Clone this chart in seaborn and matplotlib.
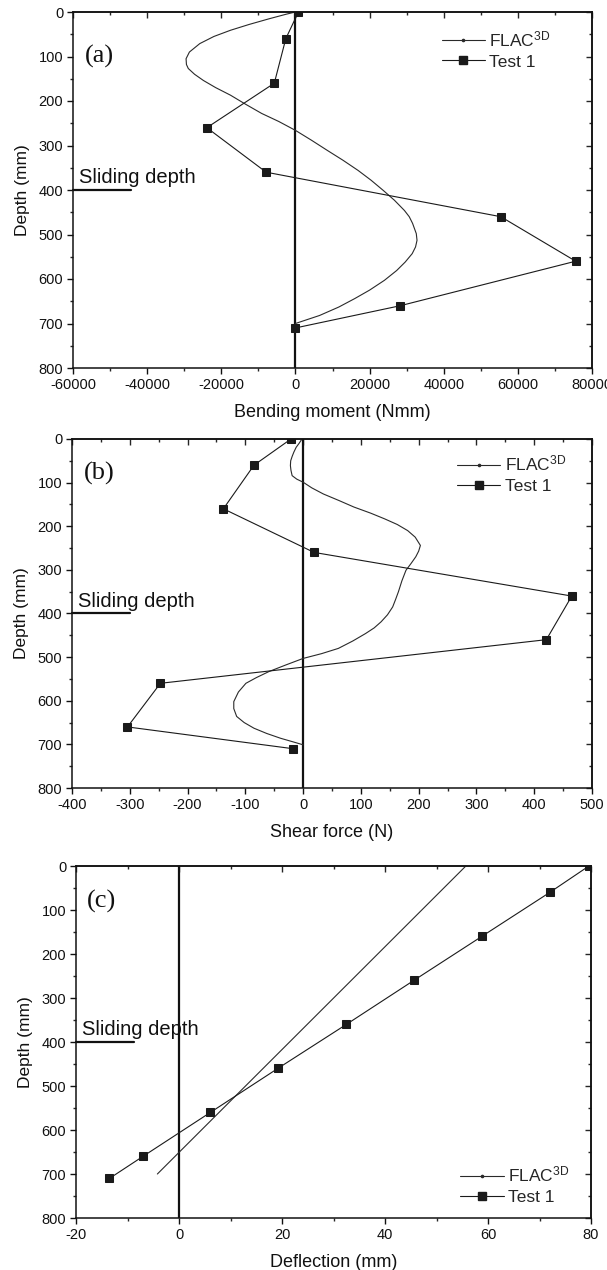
import matplotlib
matplotlib.use("Agg")
import numpy as np
import matplotlib.pyplot as plt
import seaborn as sns
from matplotlib.lines import Line2D
from matplotlib.ticker import MultipleLocator

sns.set_theme(style="ticks")
plt.rcParams['font.family'] = ['Liberation Sans', 'DejaVu Sans']
plt.rcParams['mathtext.default'] = 'regular'
plt.rcParams['axes.unicode_minus'] = False
plt.rcParams['axes.linewidth'] = 1.1
plt.rcParams['axes.edgecolor'] = '#111111'

# test depths (mm)
depth_test = [0, 60, 160, 260, 360, 460, 560, 660, 710]

# (a) bending moment (Nmm)
moment_test = [800, -2600, -5700, -23900, -7900, 55400, 75600, 28300, 0]
depth_flac_a = [0, 5, 15, 28, 41, 55, 71, 90, 105, 118, 127, 140, 154, 170, 187,
                207, 228, 246, 266, 288, 311, 333, 356, 378, 401, 423, 446, 460,
                475, 498, 513, 528, 543, 562, 581, 603, 625, 644, 663, 682, 700]
moment_flac = [0, -2500, -7000, -12500, -17500, -22000, -25800, -28600, -29500,
               -29400, -28900, -27200, -24800, -21500, -17500, -13500, -9100,
               -4500, 0, 4300, 8600, 12800, 16900, 20400, 23700, 26700, 29400,
               30700, 31600, 32600, 32800, 32400, 31500, 29600, 27300, 24000,
               20000, 16000, 11700, 6500, 0]

# (b) shear force (N)
shear_test = [-21, -85, -138, 19, 465, 421, -247, -304, -17]
depth_flac_b = [0, 10, 19, 30, 40, 50, 61, 72, 84, 92, 99, 112, 126, 141, 156,
                170, 183, 196, 210, 225, 244, 257, 270, 285, 301, 325, 350, 368,
                385, 403, 419, 433, 446, 463, 480, 492, 503, 518, 533, 547, 560,
                580, 602, 618, 636, 650, 663, 675, 686, 694, 701]
shear_flac = [-2, -7, -12, -16, -19, -21.5, -22, -21, -19, -11, 0, 15, 35, 62,
              88, 117, 141, 163, 181, 194, 203, 200, 195, 187, 178, 171, 165,
              160, 155, 146, 135, 123, 108, 86, 61, 32, 0, -30, -59, -81, -99,
              -112, -120, -120, -115, -102, -85, -63, -39, -18, 0]

# (c) deflection (mm)
deflection_test = [79.6, 72.0, 58.8, 45.6, 32.5, 19.2, 6.1, -7.0, -13.5]
depth_flac_c = [0, 700]
deflection_flac = [55.7, -4.2]

FLAC_LABEL = 'FLAC$^{3D}$'
TEST_LABEL = 'Test 1'


def style_axes(ax, xlim, xmajor, xminor):
    ax.set_xlim(xlim)
    ax.set_ylim(800, 0)
    ax.set_xticks(np.arange(xlim[0], xlim[1] + xmajor / 2, xmajor))
    ax.xaxis.set_minor_locator(MultipleLocator(xminor))
    ax.set_yticks(np.arange(0, 801, 100))
    ax.yaxis.set_minor_locator(MultipleLocator(50))
    ax.tick_params(which='major', direction='out', length=4.5, width=1.0,
                   labelsize=10.5, pad=2.5, colors='#111111')
    ax.tick_params(which='minor', direction='out', length=2.5, width=1.0)
    # mirrored ticks pointing inward on top and right
    top = ax.secondary_xaxis('top')
    top.set_xticks(ax.get_xticks())
    top.xaxis.set_minor_locator(MultipleLocator(xminor))
    top.set_xticklabels([])
    top.tick_params(which='major', direction='in', length=4, width=1.0)
    top.tick_params(which='minor', direction='in', length=2.5, width=1.0)
    right = ax.secondary_yaxis('right')
    right.set_yticks(np.arange(0, 801, 100))
    right.yaxis.set_minor_locator(MultipleLocator(50))
    right.set_yticklabels([])
    right.tick_params(which='major', direction='in', length=4.5, width=1.0)
    right.tick_params(which='minor', direction='in', length=2.5, width=1.0)


def draw_panel(ax, x_flac, y_flac, x_test, tag, xlabel, xlim, xmajor, xminor,
               leg_loc, leg_anchor):
    sns.lineplot(x=x_flac, y=y_flac, orient='y', estimator=None, ax=ax,
                 color='#2a2a2a', linewidth=0.8)
    sns.lineplot(x=x_test, y=depth_test, orient='y', estimator=None, ax=ax,
                 color='#1a1a1a', linewidth=0.8, marker='s', markersize=5.8,
                 markeredgecolor='#1a1a1a', markerfacecolor='#1a1a1a')
    ax.axvline(0, color='#111111', linewidth=1.6, zorder=1)
    style_axes(ax, xlim, xmajor, xminor)

    # sliding depth marker
    ax.plot([0, 0.112], [400, 400], transform=ax.get_yaxis_transform(),
            color='#111111', linewidth=1.6, clip_on=False)
    ax.text(0.012, 372, 'Sliding depth', transform=ax.get_yaxis_transform(),
            fontsize=14.5, va='center', ha='left', color='#111111')

    ax.text(0.022, tag[1], tag[0], transform=ax.transAxes, fontsize=19,
            family='Liberation Serif', va='center', ha='left', color='#111111')

    ax.set_xlabel(xlabel, fontsize=13, labelpad=9, color='#111111')
    ax.set_ylabel('Depth (mm)', fontsize=12.5, labelpad=6, color='#111111')

    handles = [
        Line2D([], [], color='#2a2a2a', linewidth=0.8, marker='o', markersize=1.6),
        Line2D([], [], color='#1a1a1a', linewidth=0.8, marker='s', markersize=5.8),
    ]
    ax.legend(handles, [FLAC_LABEL, TEST_LABEL], loc=leg_loc,
              bbox_to_anchor=leg_anchor, frameon=False, fontsize=12.5,
              handlelength=2.5, handletextpad=0.25, labelspacing=0.3,
              borderaxespad=0)


fig = plt.figure(figsize=(6.07, 12.70), dpi=100)
ax_a = fig.add_axes([73 / 607, 1 - 368 / 1270, 519 / 607, 356 / 1270])
ax_b = fig.add_axes([72 / 607, 1 - 788 / 1270, 520 / 607, 349 / 1270])
ax_c = fig.add_axes([76 / 607, 1 - 1218 / 1270, 515 / 607, 352 / 1270])

draw_panel(ax_a, moment_flac, depth_flac_a, moment_test, ('(a)', 0.874),
           'Bending moment (Nmm)', (-60000, 80000), 20000, 10000,
           'center left', (0.697, 0.895))
draw_panel(ax_b, shear_flac, depth_flac_b, shear_test, ('(b)', 0.9),
           'Shear force (N)', (-400, 500), 100, 50,
           'center left', (0.727, 0.90))
draw_panel(ax_c, deflection_flac, depth_flac_c, deflection_test, ('(c)', 0.9),
           'Deflection (mm)', (-20, 80), 20, 10,
           'center left', (0.733, 0.094))

fig.savefig('out.png', dpi=100, facecolor='white')
